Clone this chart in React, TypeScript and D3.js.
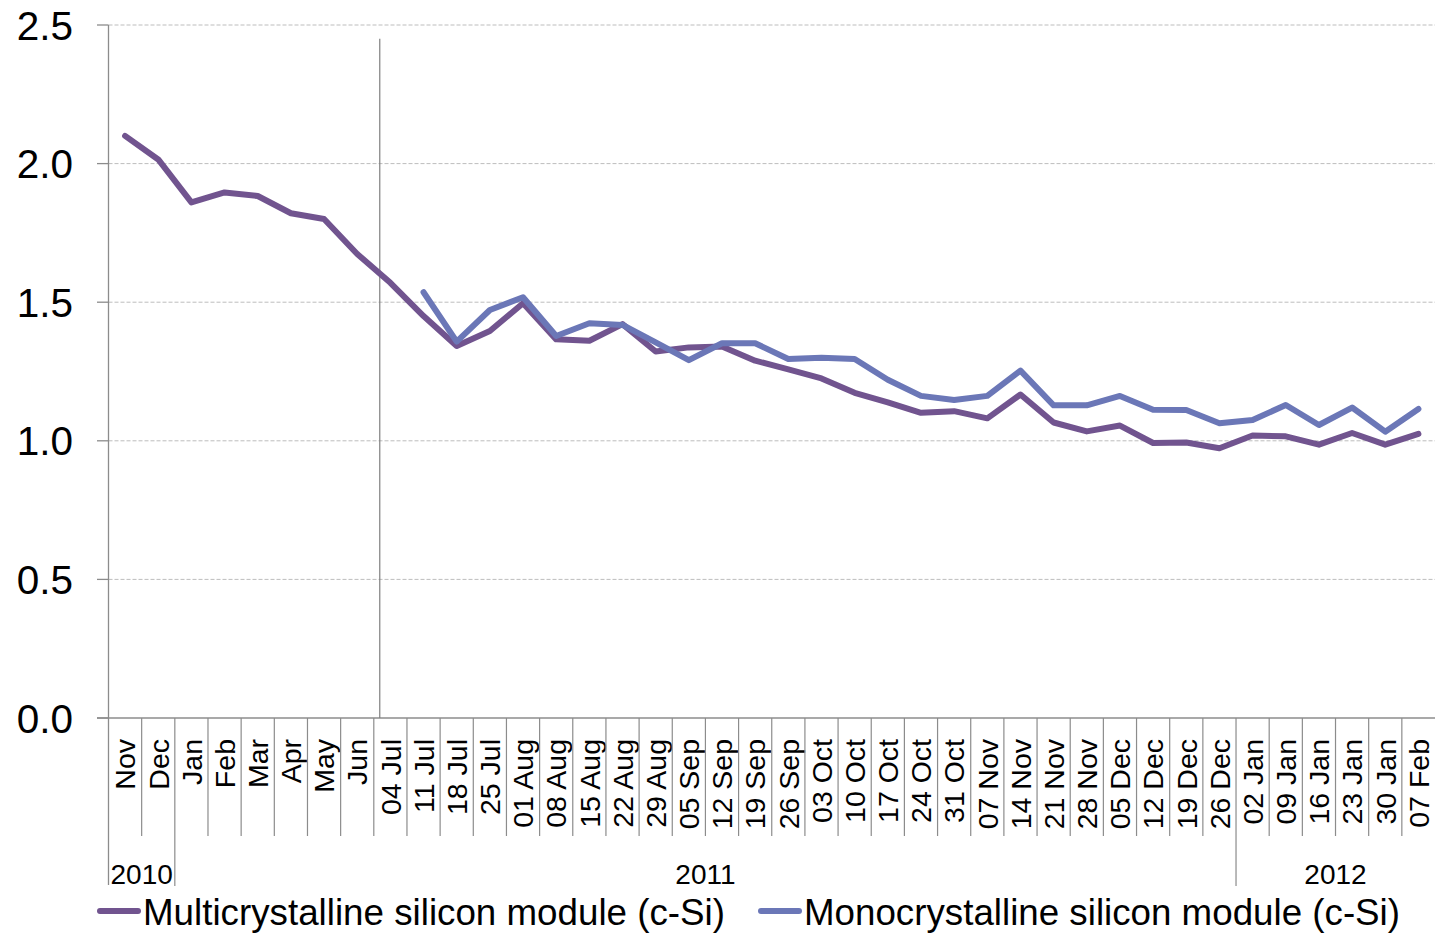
import React from "react";
import { scaleBand, scaleLinear, line } from "d3";

const categories = [
  "Nov", "Dec", "Jan", "Feb", "Mar", "Apr", "May", "Jun",
  "04 Jul", "11 Jul", "18 Jul", "25 Jul", "01 Aug", "08 Aug", "15 Aug", "22 Aug",
  "29 Aug", "05 Sep", "12 Sep", "19 Sep", "26 Sep", "03 Oct", "10 Oct", "17 Oct",
  "24 Oct", "31 Oct", "07 Nov", "14 Nov", "21 Nov", "28 Nov", "05 Dec", "12 Dec",
  "19 Dec", "26 Dec", "02 Jan", "09 Jan", "16 Jan", "23 Jan", "30 Jan", "07 Feb",
];

const multiValues = [
  2.1, 2.015, 1.86, 1.896, 1.883, 1.821, 1.8, 1.674,
  1.57, 1.45, 1.342, 1.396, 1.496, 1.366, 1.361, 1.421,
  1.322, 1.337, 1.34, 1.289, 1.258, 1.225, 1.173, 1.139,
  1.101, 1.107, 1.081, 1.167, 1.066, 1.034, 1.055, 0.992,
  0.994, 0.973, 1.019, 1.016, 0.986, 1.028, 0.986, 1.025,
];

const monoValues = [
  null, null, null, null, null, null, null, null,
  null, 1.536, 1.358, 1.472, 1.518, 1.378, 1.424, 1.418,
  1.355, 1.291, 1.352, 1.352, 1.295, 1.3, 1.295, 1.22,
  1.162, 1.147, 1.162, 1.253, 1.128, 1.128, 1.162, 1.112,
  1.111, 1.063, 1.075, 1.129, 1.057, 1.12, 1.033, 1.115,
];

const years = ["2010", "2011", "2012"];
const yearStarts = ["Nov", "Jan", "02 Jan"];
const yTicks = [0, 0.5, 1.0, 1.5, 2.0, 2.5];

const seriesNames = [
  "Multicrystalline silicon module (c-Si)",
  "Monocrystalline silicon module (c-Si)",
];
const colors = ["#71548F", "#6B77B7"];

const width = 1435;
const height = 933;
const left = 108.5;
const right = 1435;
const top = 25;
const bottom = 718;
const axisColor = "#8C8C8C";
const font = "'Liberation Sans', Arial, sans-serif";

export default function App() {
  const x = scaleBand<string>().domain(categories).range([left, right]);
  const y = scaleLinear().domain([0, 2.5]).range([bottom, top]);
  const bw = x.bandwidth();

  const path = line<number | null>()
    .defined((d) => d != null)
    .x((_, i) => x(categories[i])! + bw / 2)
    .y((d) => y(d as number));

  const yearEdges = yearStarts.map((c) => x(c)!);
  const groups = years.map((yr, i) => ({
    label: yr,
    x0: yearEdges[i],
    x1: i < years.length - 1 ? yearEdges[i + 1] : right,
  }));

  // annotation line just inside the first weekly point
  const markX = x("04 Jul")! + bw * 0.18;

  return (
    <div style={{ position: "absolute", left: 0, top: 0 }}>
      <svg width={width} height={height} style={{ display: "block", fontFamily: font }}>
        <rect width={width} height={height} fill="#fff" />
        {yTicks.filter((t) => t > 0).map((t) => (
          <line key={t} x1={left} x2={right} y1={y(t)} y2={y(t)}
            stroke="#BDBDBD" strokeWidth={1} strokeDasharray="4,2" />
        ))}
        {yTicks.map((t) => (
          <g key={"yt" + t}>
            <line x1={97} x2={left} y1={y(t)} y2={y(t)} stroke={axisColor} strokeWidth={1.3} />
            <text x={73} y={y(t)} dy="0.36em" textAnchor="end" fontSize={40.5} fill="#000">
              {t.toFixed(1)}
            </text>
          </g>
        ))}
        <line x1={left} x2={left} y1={top} y2={885} stroke={axisColor} strokeWidth={1.3} />
        <line x1={97} x2={right} y1={bottom} y2={bottom} stroke={axisColor} strokeWidth={1.3} />
        <line x1={markX} x2={markX} y1={y(2.45)} y2={bottom} stroke="#7F7F7F" strokeWidth={1.2} />

        {categories.map((c, i) => {
          const bx = x(c)!;
          const isYear = yearStarts.includes(c);
          return (
            <g key={c}>
              {i > 0 && (
                <line x1={bx} x2={bx} y1={bottom} y2={isYear ? 886 : 836}
                  stroke={axisColor} strokeWidth={1.2} />
              )}
              <text
                transform={`translate(${bx + bw / 2}, 739) rotate(-90)`}
                dy="0.36em"
                textAnchor="end"
                fontSize={28.5}
                fill="#000"
              >
                {c}
              </text>
            </g>
          );
        })}
        {groups.map((g) => (
          <text key={g.label} x={(g.x0 + g.x1) / 2} y={884} textAnchor="middle" fontSize={28} fill="#000">
            {g.label}
          </text>
        ))}

        {[multiValues, monoValues].map((vals, k) => (
          <path key={k} d={path(vals) || ""} fill="none" stroke={colors[k]}
            strokeWidth={6} strokeLinejoin="round" strokeLinecap="round" />
        ))}

        {seriesNames.map((name, k) => {
          const lx = k === 0 ? 97 : 758;
          const len = k === 0 ? 582 : 596;
          return (
            <g key={name}>
              <line x1={lx + 3} x2={lx + 41} y1={911} y2={911} stroke={colors[k]}
                strokeWidth={6} strokeLinecap="round" />
              <text x={lx + 46} y={925} fontSize={37} fill="#000"
                textLength={len} lengthAdjust="spacingAndGlyphs">
                {name}
              </text>
            </g>
          );
        })}
      </svg>
    </div>
  );
}
